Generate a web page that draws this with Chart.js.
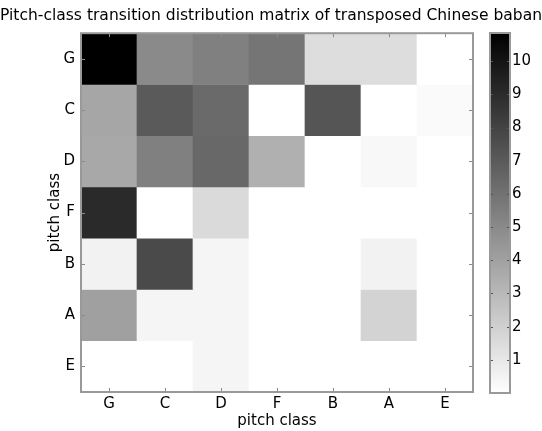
<!DOCTYPE html>
<html>
<head>
<meta charset="utf-8">
<script src="https://cdn.jsdelivr.net/npm/chart.js@4.4.0/dist/chart.umd.min.js"></script>
<style>
html, body { margin: 0; padding: 0; background: #fff; }
#wrap { position: relative; width: 542px; height: 431px; }
#main { position: absolute; left: 0; top: 0; }
#cbar { position: absolute; left: 480px; top: 0; }
</style>
</head>
<body>
<div id="wrap">
	<canvas id="main" width="542" height="431"></canvas>
	<canvas id="cbar" width="62" height="431"></canvas>
</div>
<script>
// pitch classes, same order on both axes
const xLabels = ['G', 'C', 'D', 'F', 'B', 'A', 'E'];
const yLabels = ['G', 'C', 'D', 'F', 'B', 'A', 'E'];

// one row per "from" pitch class (top to bottom), values
const rowG = [10.85, 4.98, 5.4, 5.87, 1.45, 1.45, 0];
const rowC = [3.79, 7.02, 6.34, 0, 7.23, 0, 0.2];
const rowD = [3.7, 5.4, 6.42, 3.36, 0, 0.3, 0];
const rowF = [9.06, 0, 1.57, 0, 0, 0, 0];
const rowB = [0.55, 7.7, 0.43, 0, 0, 0.55, 0];
const rowA = [4.04, 0.43, 0.43, 0, 0, 1.87, 0];
const rowE = [0, 0, 0.43, 0, 0, 0, 0];

const cbarTicks = [1, 2, 3, 4, 5, 6, 7, 8, 9, 10];
const vMin = 0;
const vMax = 10.85;

const matrix = [rowG, rowC, rowD, rowF, rowB, rowA, rowE];

const font = { family: "'DejaVu Sans', sans-serif", size: 15, weight: 'normal' };
const titleFont = { family: "'DejaVu Sans', sans-serif", size: 16, weight: 'normal' };

function grayOf(v) {
	let t = (v - vMin) / (vMax - vMin);
	t = Math.max(0, Math.min(1, t));
	const g = Math.round(255 * (1 - t));
	return 'rgb(' + g + ',' + g + ',' + g + ')';
}

// frame round the plot and small inward tick marks on all four sides
const frameTicks = {
	id: 'frameTicks',
	afterDraw(chart) {
		const ctx = chart.ctx;
		const a = chart.chartArea;
		const x = chart.scales.x;
		const y = chart.scales.y;
		ctx.save();
		ctx.strokeStyle = '#8a8a8a';
		ctx.lineWidth = 1;
		ctx.beginPath();
		x.ticks.forEach((t, i) => {
			const px = Math.round(x.getPixelForTick(i)) + 0.5;
			ctx.moveTo(px, a.bottom);
			ctx.lineTo(px, a.bottom - 4);
			ctx.moveTo(px, a.top);
			ctx.lineTo(px, a.top + 4);
		});
		y.ticks.forEach((t, i) => {
			const py = Math.round(y.getPixelForTick(i)) + 0.5;
			ctx.moveTo(a.left, py);
			ctx.lineTo(a.left + 4, py);
			ctx.moveTo(a.right, py);
			ctx.lineTo(a.right - 4, py);
		});
		ctx.stroke();
		ctx.lineWidth = 2;
		ctx.strokeStyle = '#999999';
		ctx.strokeRect(a.left, a.top, a.right - a.left, a.bottom - a.top);
		ctx.restore();
	}
};

new Chart(document.getElementById('main'), {
	type: 'bar',
	data: {
		labels: xLabels,
		datasets: matrix.map((row, r) => ({
			label: yLabels[r],
			data: row.map(() => [r - 0.5, r + 0.5]),
			backgroundColor: row.map(grayOf),
			borderWidth: 0,
			borderSkipped: false,
			grouped: false,
			barPercentage: 1,
			categoryPercentage: 1
		}))
	},
	options: {
		responsive: false,
		animation: false,
		layout: { padding: 0 },
		plugins: {
			legend: { display: false },
			tooltip: { enabled: false },
			title: {
				display: true,
				text: 'Pitch-class transition distribution matrix of transposed Chinese baban',
				color: '#000',
				font: titleFont,
				padding: { top: 6, bottom: 8 }
			}
		},
		scales: {
			x: {
				type: 'category',
				grid: { display: false, drawTicks: false },
				border: { display: false },
				ticks: { color: '#000', font: font, padding: 3 },
				title: { display: true, text: 'pitch class', color: '#000', font: font, padding: { top: 0, bottom: 1 } },
				afterFit: s => { s.height = 39; }
			},
			y: {
				type: 'linear',
				reverse: true,
				min: -0.5,
				max: 6.5,
				afterBuildTicks: s => { s.ticks = yLabels.map((_, i) => ({ value: i })); },
				grid: { display: false, drawTicks: false },
				border: { display: false },
				ticks: { color: '#000', font: font, padding: 6, callback: v => yLabels[v] },
				title: { display: true, text: 'pitch class', color: '#000', font: font, padding: { top: 46, bottom: 0 } },
				afterFit: s => { s.width = 81; }
			},
			// empty right-hand strip where the colour bar sits, keeps the title centred on the page
			yr: {
				type: 'linear',
				position: 'right',
				ticks: { display: false },
				grid: { display: false, drawTicks: false },
				border: { display: false },
				afterFit: s => { s.width = 69; }
			}
		}
	},
	plugins: [frameTicks]
});

// colour bar: one floating bar filled with the grey ramp, framed, ticks inside
const cbarFrame = {
	id: 'cbarFrame',
	afterDraw(chart) {
		const ctx = chart.ctx;
		const a = chart.chartArea;
		const y = chart.scales.y;
		ctx.save();
		ctx.strokeStyle = '#555';
		ctx.lineWidth = 1;
		ctx.beginPath();
		y.ticks.forEach((t, i) => {
			const py = Math.round(y.getPixelForTick(i)) + 0.5;
			ctx.moveTo(a.left, py);
			ctx.lineTo(a.left + 3, py);
			ctx.moveTo(a.right, py);
			ctx.lineTo(a.right - 3, py);
		});
		ctx.stroke();
		ctx.lineWidth = 2;
		ctx.strokeStyle = '#999999';
		ctx.strokeRect(a.left, a.top, a.right - a.left, a.bottom - a.top);
		ctx.restore();
	}
};

new Chart(document.getElementById('cbar'), {
	type: 'bar',
	data: {
		labels: [''],
		datasets: [{
			data: [[vMin, vMax]],
			backgroundColor: c => {
				const ch = c.chart;
				const y = ch.scales.y;
				if (!y || !ch.chartArea) return '#888';
				const y0 = y.getPixelForValue(vMin);
				const y1 = y.getPixelForValue(vMax);
				if (!isFinite(y0) || !isFinite(y1)) return '#888';
				const g = ch.ctx.createLinearGradient(0, y0, 0, y1);
				g.addColorStop(0, grayOf(vMin));
				g.addColorStop(1, grayOf(vMax));
				return g;
			},
			borderWidth: 0,
			borderSkipped: false,
			barPercentage: 1,
			categoryPercentage: 1
		}]
	},
	options: {
		responsive: false,
		animation: false,
		layout: { padding: { left: 10, right: 0, top: 33, bottom: 38 } },
		plugins: {
			legend: { display: false },
			tooltip: { enabled: false }
		},
		scales: {
			x: { display: false },
			y: {
				position: 'right',
				min: vMin,
				max: vMax,
				afterBuildTicks: s => { s.ticks = cbarTicks.map(v => ({ value: v })); },
				grid: { display: false, drawTicks: false },
				border: { display: false },
				ticks: { color: '#000', font: font, padding: 2 },
				afterFit: s => { s.width = 32; }
			}
		}
	},
	plugins: [cbarFrame]
});
</script>
</body>
</html>
